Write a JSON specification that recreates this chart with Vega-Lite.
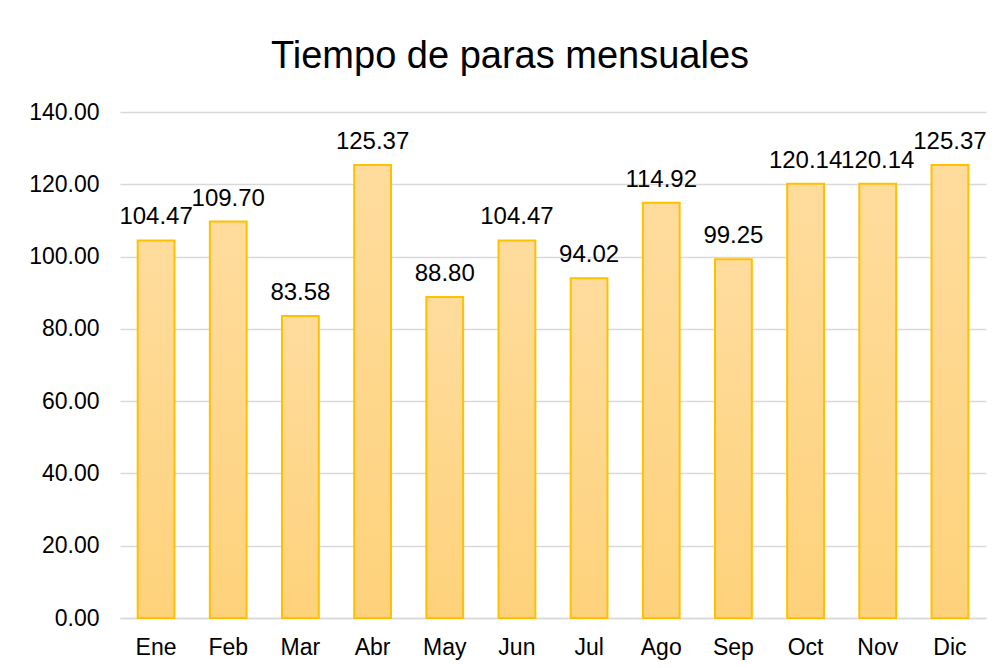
{
  "$schema": "https://vega.github.io/schema/vega-lite/v6.json",
  "autosize": "none",
  "width": 866,
  "height": 506,
  "padding": {"left": 120, "top": 112, "right": 17, "bottom": 50},
  "background": "white",
  "title": {
    "text": "Tiempo de paras mensuales",
    "font": "Liberation Sans",
    "fontSize": 38,
    "fontWeight": "normal",
    "color": "#000000",
    "anchor": "middle",
    "baseline": "alphabetic",
    "offset": 32,
    "dx": -43,
    "dy": 37
  },
  "data": {
    "values": [
      {"mes": "Ene", "valor": 104.47},
      {"mes": "Feb", "valor": 109.70},
      {"mes": "Mar", "valor": 83.58},
      {"mes": "Abr", "valor": 125.37},
      {"mes": "May", "valor": 88.80},
      {"mes": "Jun", "valor": 104.47},
      {"mes": "Jul", "valor": 94.02},
      {"mes": "Ago", "valor": 114.92},
      {"mes": "Sep", "valor": 99.25},
      {"mes": "Oct", "valor": 120.14},
      {"mes": "Nov", "valor": 120.14},
      {"mes": "Dic", "valor": 125.37}
    ]
  },
  "encoding": {
    "x": {
      "field": "mes",
      "type": "nominal",
      "sort": null,
      "scale": {"paddingInner": 0.49, "paddingOuter": 0.245},
      "axis": {
        "title": null,
        "labelAngle": 0,
        "labelFont": "Liberation Sans",
        "labelFontSize": 23,
        "labelColor": "#000000",
        "labelPadding": 18,
        "ticks": false,
        "domain": true,
        "domainColor": "#D9D9D9",
        "domainWidth": 1.5
      }
    },
    "y": {
      "field": "valor",
      "type": "quantitative",
      "scale": {"domain": [0, 140], "nice": false},
      "axis": {
        "title": null,
        "values": [0, 20, 40, 60, 80, 100, 120, 140],
        "format": ".2f",
        "labelFont": "Liberation Sans",
        "labelFontSize": 23,
        "labelColor": "#000000",
        "labelPadding": 21,
        "ticks": false,
        "domain": false,
        "grid": true,
        "gridColor": "#D9D9D9",
        "gridWidth": 1.5
      }
    }
  },
  "layer": [
    {
      "mark": {
        "type": "bar",
        "fill": {
          "gradient": "linear",
          "x1": 0, "y1": 0, "x2": 0, "y2": 1,
          "stops": [
            {"offset": 0, "color": "#FFDC9D"},
            {"offset": 1, "color": "#FED27B"}
          ]
        },
        "stroke": "#FFC000",
        "strokeWidth": 2
      }
    },
    {
      "mark": {
        "type": "text",
        "font": "Liberation Sans",
        "fontSize": 24,
        "color": "#000000",
        "baseline": "alphabetic",
        "dy": -16
      },
      "encoding": {
        "text": {"field": "valor", "type": "quantitative", "format": ".2f"}
      }
    }
  ],
  "config": {
    "view": {"stroke": null}
  }
}
